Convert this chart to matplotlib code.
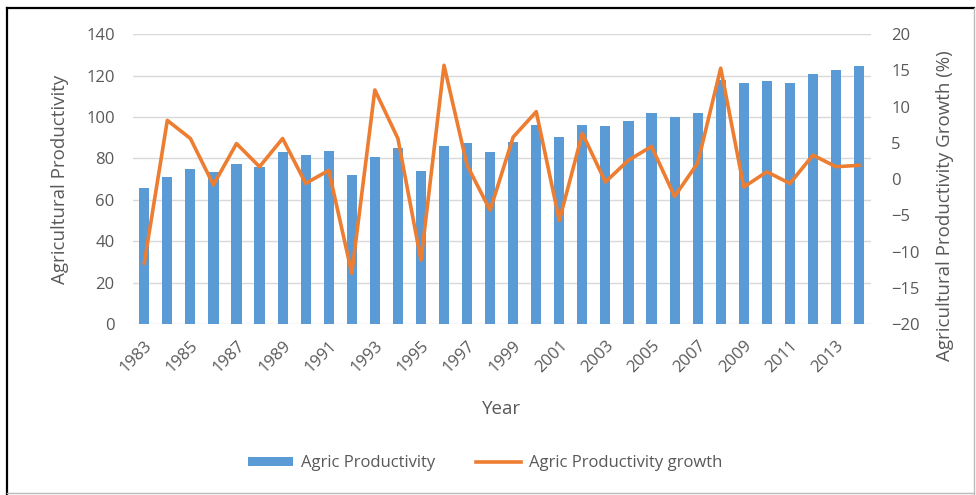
import matplotlib
matplotlib.use("Agg")
import matplotlib.pyplot as plt
from matplotlib.lines import Line2D
from matplotlib.patches import Patch

# Annual series, 1983-2014
years = list(range(1983, 2015))
productivity = [65.5, 71.0, 74.8, 73.5, 77.2, 75.9, 82.9, 81.8, 83.5, 71.9,
                80.8, 84.8, 74.0, 85.9, 87.5, 82.9, 88.0, 96.1, 90.4, 96.1,
                95.6, 98.2, 102.0, 99.8, 102.0, 118.0, 116.5, 117.3, 116.5, 120.7,
                122.6, 124.7]
growth = [-11.6, 8.1, 5.6, -0.8, 4.9, 1.7, 5.6, -0.6, 1.2, -13.0,
          12.3, 5.6, -11.2, 15.7, 1.9, -4.3, 5.8, 9.3, -5.7, 6.3,
          -0.4, 2.6, 4.5, -2.4, 2.2, 15.3, -1.1, 1.0, -0.6, 3.3,
          1.7, 1.9]
tick_years = years[::2]

BLUE = "#5B9BD5"
ORANGE = "#ED7D31"
TXT = "#595959"
GRID = "#D9D9D9"

plt.rcParams["font.family"] = ["Open Sans", "DejaVu Sans"]

fig = plt.figure(figsize=(9.76, 4.95), dpi=100)
ax = fig.add_axes([0.136, 0.3455, 0.756, 0.5855])
ax2 = ax.twinx()

x = list(range(len(years)))
ax.bar(x, productivity, width=0.44, color=BLUE, zorder=2)
ax2.plot(x, growth, color=ORANGE, lw=2.6, zorder=3)

ax.set_xlim(-0.5, len(years) - 0.5)
ax.set_ylim(0, 140)
ax.set_yticks(range(0, 141, 20))
ax2.set_ylim(-20, 20)
ax2.set_yticks(range(-20, 21, 5))

ax.yaxis.grid(True, color=GRID, lw=1.0, zorder=0)
ax.set_axisbelow(True)

for a in (ax, ax2):
    for s in a.spines.values():
        s.set_visible(False)
    a.tick_params(length=0, colors=TXT, labelsize=12)

ax.set_xticks([years.index(y) for y in tick_years])
ax.set_xticklabels([str(y) for y in tick_years], rotation=45, ha="right",
                   rotation_mode="anchor", fontsize=12, color=TXT)
ax.tick_params(axis="x", pad=10)
ax.tick_params(axis="y", pad=13)
ax2.tick_params(axis="y", pad=15)

ax.set_xlabel("Year", fontsize=13.5, color=TXT)
ax.xaxis.set_label_coords(0.5, -0.262)
ax.set_ylabel("Agricultural Productivity", fontsize=13.5, color=TXT)
ax.yaxis.set_label_coords(-0.086, 0.5)
ax2.set_ylabel("Agricultural Productivity Growth (%)", fontsize=13.5,
               color=TXT)
ax2.yaxis.set_label_coords(1.089, 0.41)

handles = [Patch(facecolor=BLUE, edgecolor="none"),
           Line2D([0], [0], color=ORANGE, lw=2.6)]
fig.legend(handles, ["Agric Productivity", "Agric Productivity growth"],
           loc="center", bbox_to_anchor=(0.497, 0.064), ncol=2, frameon=False,
           fontsize=12, labelcolor=TXT, handlelength=2.7, handleheight=0.5,
           columnspacing=2.4, handletextpad=0.5)

# Frame around the figure
fig.add_artist(Line2D([0.007, 0.007], [0.003, 0.984], color="black", lw=1.6,
                      transform=fig.transFigure))
fig.add_artist(Line2D([0.007, 0.998], [0.984, 0.984], color="black", lw=1.6,
                      transform=fig.transFigure))
fig.add_artist(Line2D([0.998, 0.998], [0.003, 0.984], color="#BBBBBB", lw=1.0,
                      transform=fig.transFigure))
fig.add_artist(Line2D([0.007, 0.998], [0.004, 0.004], color="#BBBBBB", lw=1.0,
                      transform=fig.transFigure))

fig.savefig("out.png", dpi=100)
